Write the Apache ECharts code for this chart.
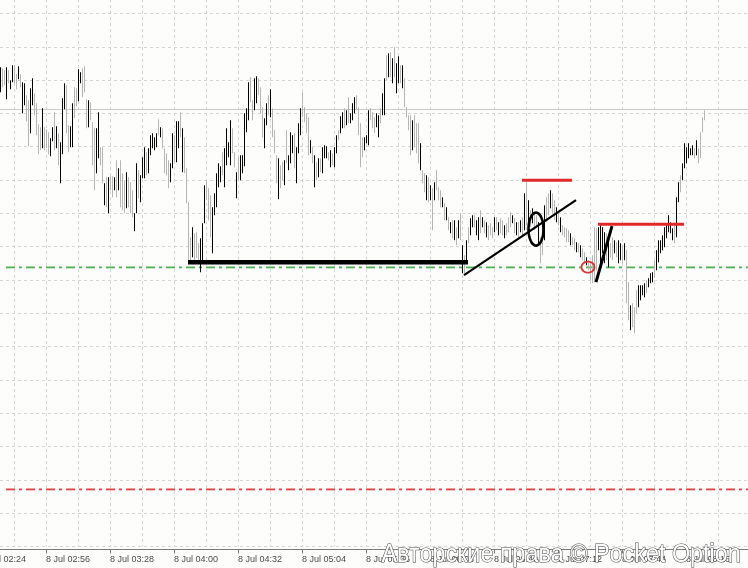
<!DOCTYPE html>
<html><head><meta charset="utf-8">
<script src="https://cdn.jsdelivr.net/npm/echarts@6/dist/echarts.min.js"></script>
<style>html,body{margin:0;padding:0;background:#fdfdfc}#c{width:748px;height:568px}</style>
</head><body><div id="c"></div>
<script>
// Time slots: one-minute bars, first slot 8 Jul 02:24
const dayLabel = '8 Jul';
const startMinute = 2 * 60 + 24;
const slotCount = 384;
const firstBarSlot = 9; // first drawn bar = 02:33

// Bar highs / lows (price units), from slot 9 onwards
const barHigh = [
546,545,543,546,543,533,548,548,539,547,539,531,530,518,513,525,535,520,510,489,486,505,486,484,481,475,486,501,487,480,471,515,530,528,488,487,510,526,525,544,541,545,547,514,513,511,491,485,485,501,466,466,430,436,436,437,437,436,453,445,
453,440,433,441,436,431,423,400,450,443,438,456,466,461,465,478,480,476,480,494,486,485,465,460,453,450,480,478,492,492,501,485,476,445,411,376,386,380,381,370,375,390,428,433,425,418,406,420,440,450,447,461,465,485,471,493,485,461,441,456,
458,458,500,505,531,536,513,535,537,535,526,506,495,510,518,524,505,483,458,455,448,451,453,483,458,481,478,480,466,490,505,521,506,500,496,473,466,458,451,455,455,466,468,467,461,463,460,466,478,483,497,501,505,503,516,500,510,516,518,506,
490,476,476,478,503,505,501,496,500,498,505,520,535,558,560,561,555,566,550,557,548,548,535,506,498,498,493,498,490,490,470,443,440,438,436,428,425,431,443,426,423,416,410,406,396,391,393,393,386,393,400,368,358,373,386,395,398,398,393,396,
403,396,393,391,388,390,386,396,396,391,395,393,388,390,396,401,398,395,391,391,393,396,420,431,413,403,405,401,398,391,376,385,408,416,420,423,420,413,406,401,396,388,386,385,383,380,376,375,371,370,368,365,361,356,353,351,358,386,385,386,
388,386,381,380,373,370,376,373,371,373,370,368,370,363,331,308,310,306,323,328,328,328,330,333,335,340,341,353,363,373,373,378,386,388,398,391,385,388,416,431,438,450,470,466,470,465,468,465,473,465,481,496,503
];
const barLow = [
521,526,528,514,530,524,531,530,524,534,526,500,508,492,467,480,508,498,478,459,463,465,463,465,459,457,472,463,465,448,430,459,504,480,461,466,466,495,507,512,530,516,521,485,486,493,448,423,440,455,448,430,408,406,400,423,416,423,416,423,
406,403,400,405,406,400,396,382,400,415,411,435,435,438,440,458,465,463,466,478,476,465,440,438,425,431,445,451,451,465,476,441,440,410,353,353,356,353,355,353,341,353,390,413,393,376,360,398,406,426,431,438,426,448,456,448,460,446,415,433,
433,440,447,481,493,511,493,503,510,518,500,476,465,488,498,496,476,460,430,414,425,433,428,450,443,450,460,445,430,460,478,496,491,480,458,460,450,426,433,436,441,440,455,455,453,446,448,446,460,473,480,485,485,488,490,490,493,500,503,478,
446,456,463,470,468,493,485,480,486,476,490,498,498,533,536,536,530,536,520,530,530,525,506,496,483,458,463,466,460,450,443,430,421,413,411,413,383,413,423,413,406,406,393,393,383,380,375,373,368,375,373,340,340,350,370,378,386,386,378,373,
380,386,380,376,373,378,375,381,383,378,380,378,375,378,381,386,390,380,378,375,381,378,383,388,386,386,390,383,385,370,350,358,373,391,398,405,400,393,391,388,381,378,376,371,371,368,368,363,361,361,356,353,350,348,343,333,330,331,343,363,
346,360,350,353,346,356,353,360,356,350,353,350,353,310,293,283,286,280,300,306,313,318,316,320,326,330,331,336,343,351,360,363,366,375,381,380,373,370,376,411,421,433,445,450,455,458,458,455,458,450,455,481,493
];
// 1 = up bar (black), 0 = down bar (grey)
const barUp = [
1,0,0,1,0,1,1,0,0,1,0,1,1,0,0,1,1,0,0,0,0,1,0,0,0,1,1,0,1,0,1,1,1,0,0,1,1,0,0,1,1,0,0,0,1,0,0,0,1,1,0,0,1,0,1,0,0,1,0,1,
0,0,0,1,0,0,0,1,1,0,1,1,1,0,1,1,1,1,1,0,1,0,0,0,0,1,1,0,1,1,0,1,0,0,0,0,1,0,0,0,1,1,1,0,0,0,1,1,1,1,1,0,1,1,1,1,0,0,1,0,
1,1,1,1,1,0,0,1,1,0,0,0,1,1,0,1,0,0,0,1,0,0,1,0,1,1,1,0,1,1,1,0,0,0,0,1,0,1,0,1,0,1,1,1,0,1,0,1,1,0,1,1,0,1,0,1,1,1,0,0,
0,0,1,1,1,0,0,0,1,1,0,1,1,0,1,0,1,0,1,1,0,1,0,0,0,0,1,0,0,0,1,0,0,1,0,1,0,1,0,0,0,1,0,1,0,1,0,1,0,1,0,1,0,1,0,1,1,0,1,1,0,1,0,1,
0,0,0,1,0,1,0,0,1,0,0,0,1,0,1,0,1,0,1,0,1,0,1,0,0,1,0,0,1,0,0,1,0,0,1,0,1,0,0,0,0,1,0,0,1,0,1,0,0,1,0,0,0,0,0,1,1,1,1,0,
1,0,0,1,0,1,1,0,1,0,0,1,0,0,0,1,1,1,1,0,1,1,1,0,1,1,1,1,1,1,1,1,1,0,1,1,0,1,1,1,1,1,1,0,1,0,0,0,0,1,1,1,0
];

// Horizontal price levels
const bidLevel = 504;
const greenLevel = 346;
const redLevel = 124;
// Drawn objects: [slot, price]
const supportLine = [[103, 351], [243, 351]];
const trendLine = [[241, 338], [297, 413]];
const ellipseMark = [277, 384];
const redTopLine = [[270, 433], [295, 433]];
const redCircleMark = [303, 346];
const spikeLine = [[307, 331], [315, 387]];
const redLowLine = [[308, 389], [351, 389]];

const categories = [];
for (let i = 0; i < slotCount; i++) {
  const m = startMinute + i;
  const hh = String(Math.floor(m / 60)).padStart(2, '0');
  const mm = String(m % 60).padStart(2, '0');
  categories.push(dayLabel + ' ' + hh + ':' + mm);
}
const bars = barHigh.map((h, k) => [firstBarSlot + k, h, barLow[k], barUp[k]]);

const chart = echarts.init(document.getElementById('c'), null, {renderer: 'canvas'});
const gridColor = '#d6d6d6';
const yInterval = 33.3125;

function barItem(params, api) {
  const i = api.value(0);
  const top = api.coord([i, api.value(1)]);
  const bot = api.coord([i, api.value(2)]);
  return {
    type: 'rect',
    shape: {x: Math.round(top[0]), y: top[1], width: 1, height: Math.max(1, bot[1] - top[1])},
    style: {fill: api.value(3) ? '#000000' : '#b5b5b5'}
  };
}

// dash-dot level drawn as filled pieces: dash 9, gap 4, dot 3, gap 4
function dashDotLevel(api, v, color, startSlot) {
  const a = api.coord([startSlot, v]), b = api.coord([slotCount - 1, v]);
  const y = Math.round(a[1]) - 0.5;
  const pieces = [];
  for (let x = a[0]; x < b[0]; x += 20) {
    pieces.push({type: 'rect', shape: {x: x, y: y, width: 9, height: 1.8}, style: {fill: color}});
    pieces.push({type: 'rect', shape: {x: x + 13, y: y, width: 3, height: 1.8}, style: {fill: color}});
  }
  return {type: 'group', children: pieces};
}

function underItem(params, api) {
  const a = api.coord([0, bidLevel]), b = api.coord([slotCount - 1, bidLevel]);
  const y = Math.round(a[1]);
  return {type: 'group', children: [
    {type: 'rect', shape: {x: a[0], y: y, width: b[0] - a[0], height: 1}, style: {fill: '#cacaca'}},
    dashDotLevel(api, greenLevel, '#4fb04f', 12),
    dashDotLevel(api, redLevel, '#e04040', 12)
  ]};
}

function noteItem(params, api) {
  const seg = (p, color, w) => {
    const a = api.coord(p[0]), b = api.coord(p[1]);
    return {type: 'line', shape: {x1: a[0], y1: a[1], x2: b[0], y2: b[1]}, style: {stroke: color, lineWidth: w, lineCap: 'butt'}};
  };
  const ell = (c, rx, ry, color, w) => {
    const p = api.coord(c);
    const pts = [];
    for (let k = 0; k < 48; k++) {
      const t = k / 48 * Math.PI * 2;
      pts.push([p[0] + rx * Math.cos(t), p[1] + ry * Math.sin(t)]);
    }
    return {type: 'polygon', shape: {points: pts}, style: {fill: 'none', stroke: color, lineWidth: w}};
  };
  return {type: 'group', children: [
    seg(supportLine, '#000', 4.5),
    seg(trendLine, '#000', 2.2),
    ell(ellipseMark, 7.5, 16.5, '#000', 2.6),
    seg(redTopLine, '#e02a2a', 3),
    ell(redCircleMark, 6.5, 5.5, '#d83434', 1.8),
    seg(spikeLine, '#000', 3),
    seg(redLowLine, '#e02a2a', 3)
  ]};
}

chart.setOption({
  backgroundColor: '#fdfdfc',
  animation: false,
  grid: {left: -18, right: 0, top: -1, bottom: 21.5, containLabel: false, outerBoundsMode: 'none'},
  xAxis: {
    type: 'category', data: categories, boundaryGap: false, offset: 3,
    axisLine: {show: true, lineStyle: {color: '#7a7a7a', width: 1}},
    axisTick: {show: true, interval: 31, length: 4, lineStyle: {color: '#7a7a7a'}},
    axisLabel: {interval: 31, align: 'left', fontSize: 9, fontFamily: 'Liberation Sans', color: '#4a4a4a', margin: 6},
    splitLine: {show: true, interval: 15, lineStyle: {type: [3, 3], color: gridColor, width: 1}}
  },
  yAxis: {
    type: 'value', min: yInterval * 2, max: 614.125, interval: yInterval,
    axisLine: {show: false}, axisTick: {show: false}, axisLabel: {show: false},
    splitLine: {show: true, lineStyle: {type: [3, 3], color: gridColor, width: 1}}
  },
  series: [
    {type: 'custom', name: 'levels', renderItem: underItem, data: [[0]], encode: {x: 0}, clip: false, z: 2, silent: true},
    {type: 'custom', name: 'bars', renderItem: barItem, data: bars, encode: {x: 0, y: [1, 2]}, clip: true, z: 3},
    {type: 'custom', name: 'notes', renderItem: noteItem, data: [[0]], encode: {x: 0}, clip: false, z: 5, silent: true}
  ],
  graphic: [{
    type: 'text', left: 381, top: 542, z: 100, scaleX: 0.935,
    style: {text: 'Авторские права © Pocket Option', font: '25px "Liberation Sans"', fill: '#ffffff', stroke: '#4a4a4a', lineWidth: 1.1}
  }]
});
</script>
</body></html>
